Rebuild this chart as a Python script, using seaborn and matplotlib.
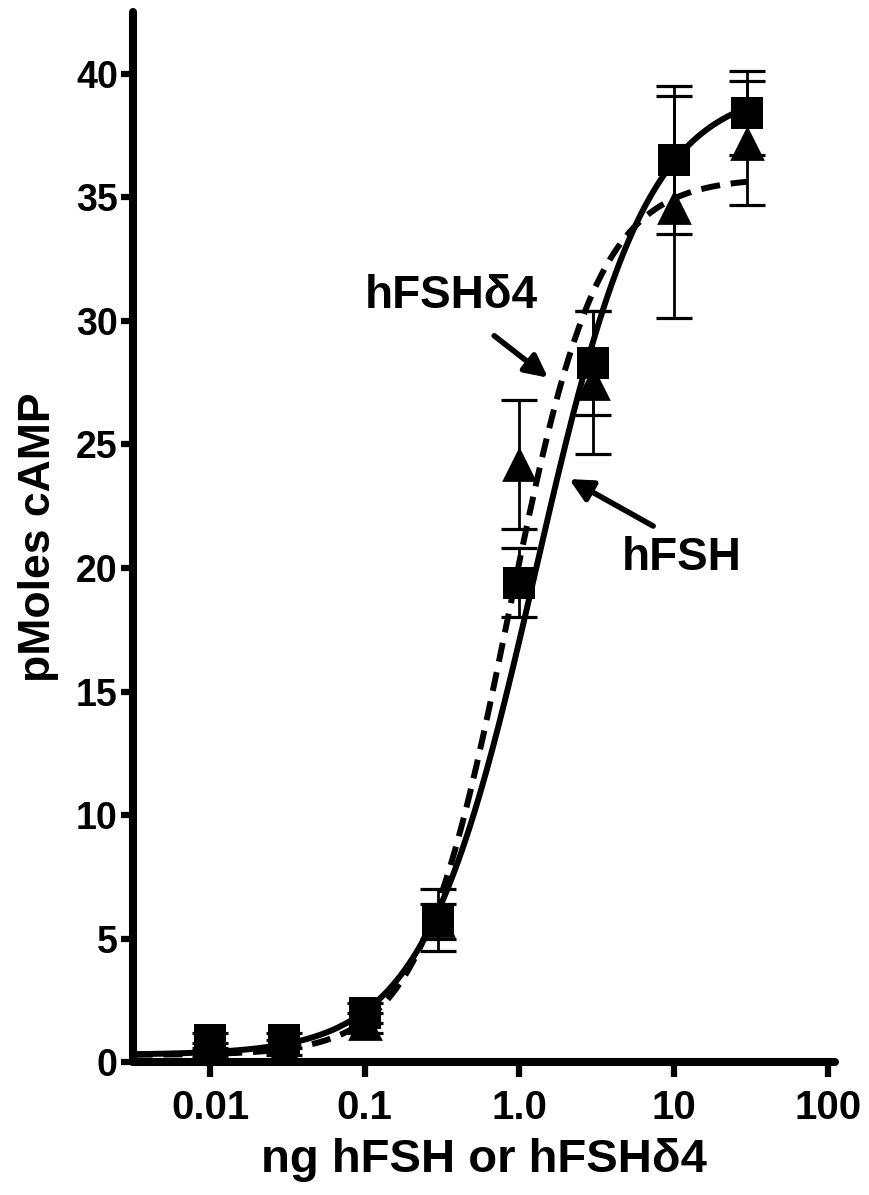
import numpy as np
import pandas as pd
import matplotlib
matplotlib.use("Agg")
import matplotlib.pyplot as plt
import seaborn as sns

# doses (ng) and mean cAMP
doses = [0.01, 0.03, 0.1, 0.3, 1.0, 3.0, 10.0, 30.0]
hfsh_mean = [0.9, 0.9, 2.0, 5.7, 19.4, 28.3, 36.5, 38.4]
hfsh_err = [0.3, 0.3, 0.4, 0.7, 1.4, 2.1, 3.0, 1.7]
d4_mean = [0.5, 0.6, 1.6, 5.75, 24.2, 27.5, 34.6, 37.2]
d4_err = [0.3, 0.3, 0.4, 1.25, 2.6, 2.9, 4.5, 2.5]

# four-parameter logistic fits (bottom, top, EC50, hill)
hfsh_fit = [0.3, 39.5, 1.28, 1.2]
d4_fit = [0.3, 35.8, 0.85, 1.5]

x_ticks = [0.01, 0.1, 1.0, 10, 100]
x_tick_labels = ["0.01", "0.1", "1.0", "10", "100"]
y_ticks = [0, 5, 10, 15, 20, 25, 30, 35, 40]


def logistic(x, p):
    bottom, top, ec50, hill = p
    return bottom + (top - bottom) / (1 + (ec50 / x) ** hill)


sns.set_style("ticks", {"axes.edgecolor": "black", "text.color": "black",
                        "axes.labelcolor": "black", "xtick.color": "black",
                        "ytick.color": "black"})
plt.rcParams['font.family'] = ['Liberation Sans', 'DejaVu Sans']
plt.rcParams['font.weight'] = 'bold'

fig = plt.figure(figsize=(8.7, 11.95), dpi=100)
ax = fig.add_axes([0.153, 0.111, 0.807, 0.879])

pts = pd.DataFrame({
    "dose": doses * 2,
    "camp": hfsh_mean + d4_mean,
    "err": hfsh_err + d4_err,
    "form": ["hFSH"] * len(doses) + ["hFSHd4"] * len(doses),
})

# error bars
for form in ["hFSHd4", "hFSH"]:
    sub = pts[pts.form == form]
    ax.errorbar(sub.dose, sub.camp, yerr=sub.err, fmt="none", ecolor="black",
                elinewidth=2.0, capsize=13, capthick=2.3, zorder=2)

# markers
sns.scatterplot(data=pts[pts.form == "hFSHd4"], x="dose", y="camp", marker="^",
                s=25 ** 2, color="black", linewidth=0, ax=ax, zorder=3, legend=False)
sns.scatterplot(data=pts[pts.form == "hFSH"], x="dose", y="camp", marker="s",
                s=23 ** 2, color="black", linewidth=0, ax=ax, zorder=4, legend=False)

# fitted curves
xs = np.logspace(np.log10(0.0032), np.log10(30), 300)
curves = pd.DataFrame({
    "dose": np.concatenate([xs, xs]),
    "camp": np.concatenate([logistic(xs, hfsh_fit), logistic(xs, d4_fit)]),
    "form": ["hFSH"] * len(xs) + ["hFSHd4"] * len(xs),
})
sns.lineplot(data=curves[curves.form == "hFSH"], x="dose", y="camp", color="black",
             linewidth=4.3, ax=ax, zorder=5)
sns.lineplot(data=curves[curves.form == "hFSHd4"], x="dose", y="camp", color="black",
             linewidth=4.3, ax=ax, zorder=5)
ax.lines[-1].set_dashes((3.2, 1.8))

ax.set_xscale("log")
ax.set_xlim(0.00318, 111)
ax.set_ylim(0, 42.5)
ax.set_xticks(x_ticks)
ax.set_xticklabels(x_tick_labels)
ax.set_yticks(y_ticks)
ax.minorticks_off()
ax.tick_params(axis="y", direction="out", length=9, width=4.5, labelsize=27, pad=2,
               colors="black")
ax.tick_params(axis="x", direction="out", length=11, width=4.5, labelsize=29, pad=8,
               colors="black")
for lab in ax.get_xticklabels() + ax.get_yticklabels():
    lab.set_fontweight("bold")

sns.despine(ax=ax)
for side in ["left", "bottom"]:
    ax.spines[side].set_linewidth(5.8)
    ax.spines[side].set_color("black")
    ax.spines[side].set_capstyle("round")

ax.set_xlabel("ng hFSH or hFSH\u03b44", fontsize=34, fontweight="bold", labelpad=8,
              color="black")
ax.set_ylabel("pMoles cAMP", fontsize=32, fontweight="bold", labelpad=12,
              color="black")

arrow = dict(arrowstyle="-|>", color="black", lw=4, mutation_scale=34, shrinkA=0, shrinkB=0)
ax.annotate("hFSH\u03b44", xy=(1.54, 27.7), xytext=(0.363, 31.0), fontsize=33,
            fontweight="bold", ha="center", va="center", color="black")
ax.annotate("", xy=(1.54, 27.7), xytext=(0.69, 29.4), arrowprops=arrow)
ax.annotate("hFSH", xy=(2.11, 23.6), xytext=(11.2, 20.4), fontsize=33,
            fontweight="bold", ha="center", va="center", color="black")
ax.annotate("", xy=(2.11, 23.6), xytext=(7.37, 21.7), arrowprops=arrow)

fig.savefig("out.png", dpi=100)
